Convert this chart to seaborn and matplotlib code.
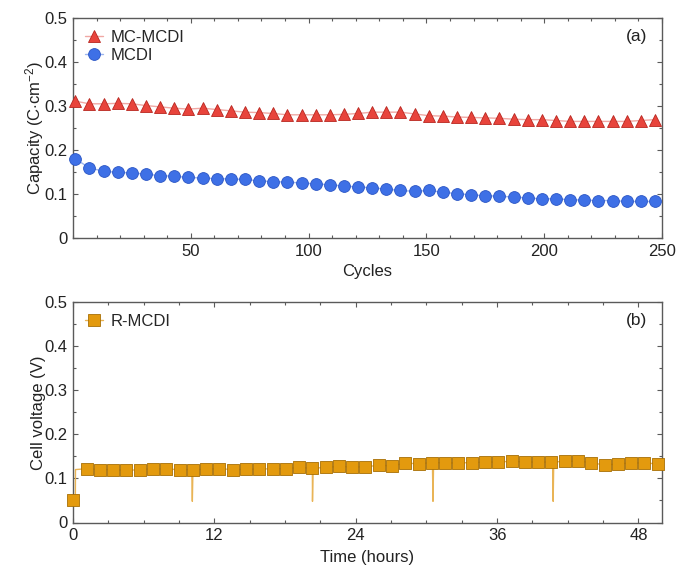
import numpy as np
import pandas as pd
import matplotlib
matplotlib.use("Agg")
import matplotlib.pyplot as plt
from matplotlib.ticker import MultipleLocator, FuncFormatter
from matplotlib.lines import Line2D
import seaborn as sns

# ---------------- data ----------------
cycles = list(range(1, 250, 6))  # 42 cycles
mc_mcdi = [0.311, 0.305, 0.305, 0.306, 0.305, 0.301, 0.298, 0.295, 0.293, 0.295,
           0.292, 0.289, 0.286, 0.285, 0.283, 0.280, 0.280, 0.280, 0.280, 0.281,
           0.283, 0.286, 0.286, 0.286, 0.282, 0.278, 0.277, 0.275, 0.274, 0.273,
           0.272, 0.270, 0.269, 0.269, 0.267, 0.265, 0.265, 0.265, 0.265, 0.265,
           0.267, 0.269]
mcdi = [0.180, 0.159, 0.152, 0.149, 0.148, 0.145, 0.142, 0.140, 0.138, 0.136,
        0.135, 0.134, 0.133, 0.130, 0.128, 0.127, 0.125, 0.123, 0.121, 0.118,
        0.116, 0.114, 0.111, 0.108, 0.106, 0.108, 0.104, 0.101, 0.098, 0.096,
        0.095, 0.093, 0.091, 0.089, 0.089, 0.087, 0.086, 0.085, 0.085, 0.083,
        0.083, 0.083]

hours = [0.00, 1.16, 2.29, 3.41, 4.54, 5.67, 6.80, 7.92, 9.05, 10.18, 11.30,
         12.43, 13.56, 14.69, 15.81, 16.94, 18.07, 19.19, 20.32, 21.45, 22.58,
         23.70, 24.83, 25.96, 27.08, 28.21, 29.34, 30.47, 31.59, 32.72, 33.85,
         34.97, 36.10, 37.23, 38.36, 39.48, 40.61, 41.74, 42.86, 43.99, 45.12,
         46.25, 47.37, 48.50, 49.63]
r_mcdi = [0.050, 0.122, 0.120, 0.120, 0.118, 0.120, 0.122, 0.121, 0.120, 0.120,
          0.121, 0.122, 0.120, 0.121, 0.121, 0.122, 0.122, 0.125, 0.123, 0.125,
          0.127, 0.126, 0.126, 0.130, 0.128, 0.135, 0.133, 0.136, 0.135, 0.135,
          0.136, 0.137, 0.137, 0.139, 0.137, 0.137, 0.137, 0.139, 0.139, 0.136,
          0.130, 0.133, 0.135, 0.135, 0.133]
# voltage trace details: start-up step and brief drops
step_time = [0.0, 0.2, 0.21]
step_volt = [0.050, 0.050, 0.120]
spike_times = [10.13, 20.33, 30.56, 40.76]
spike_min = 0.048

# ---------------- style ----------------
sns.set_theme(style="ticks")
plt.rcParams['font.family'] = ['Liberation Sans', 'DejaVu Sans']
plt.rcParams['mathtext.fontset'] = 'custom'
plt.rcParams['mathtext.rm'] = 'Liberation Sans'
plt.rcParams['mathtext.it'] = 'Liberation Sans'

FS = 12
spine_c = '#5a5a5a'
text_c = '#222222'

fig = plt.figure(figsize=(6.77, 5.67), dpi=100)
ax1 = fig.add_axes([73/677, 1-238/567, 589/677, 220/567])
ax2 = fig.add_axes([73/677, 1-522.5/567, 589/677, 220.5/567])

red_face, red_edge, red_line = '#e8443c', '#b8261f', '#f0a8a4'
blue_face, blue_edge, blue_line = '#3e70e6', '#2a55c4', '#9db5ee'
or_face, or_edge, or_line = '#e39a0e', '#a86f05', '#e9b456'

# ---- panel (a) ----
dfa = pd.DataFrame({'Cycles': cycles, 'MC-MCDI': mc_mcdi, 'MCDI': mcdi})
sns.lineplot(data=dfa, x='Cycles', y='MC-MCDI', ax=ax1, color=red_line,
             linewidth=1.0, marker='^', markersize=9, markerfacecolor=red_face,
             markeredgecolor=red_edge, markeredgewidth=0.6, clip_on=False,
             label='MC-MCDI', zorder=3)
sns.lineplot(data=dfa, x='Cycles', y='MCDI', ax=ax1, color=blue_line,
             linewidth=1.0, marker='o', markersize=8.5, markerfacecolor=blue_face,
             markeredgecolor=blue_edge, markeredgewidth=0.6, clip_on=False,
             label='MCDI', zorder=3)
ax1.set_xlim(0, 250)
ax1.set_ylim(0, 0.5)
ax1.set_xticks([50, 100, 150, 200, 250])
ax1.xaxis.set_minor_locator(MultipleLocator(10))
ax1.set_xlabel('Cycles', fontsize=FS, color=text_c, labelpad=4)
ax1.set_ylabel(r'Capacity (C$\cdot$cm$^{-2}$)', fontsize=FS, color=text_c, labelpad=-1)
ax1.text(0.975, 0.914, '(a)', transform=ax1.transAxes, ha='right', va='center',
         fontsize=12.5, color=text_c)
ax1.legend(loc='upper left', frameon=False, fontsize=FS, handlelength=1.1,
           handletextpad=0.45, borderaxespad=0.3, labelspacing=0.18,
           bbox_to_anchor=(0.0, 1.0))

# ---- panel (b) ----
trace_t = list(step_time)
trace_v = list(step_volt)
pts = list(zip(hours[1:], r_mcdi[1:]))
for s in spike_times:
    nb = min(pts, key=lambda p: abs(p[0] - s))[1]
    pts += [(s - 0.05, nb), (s, spike_min), (s + 0.05, nb)]
pts.sort()
trace_t += [p[0] for p in pts]
trace_v += [p[1] for p in pts]
dft = pd.DataFrame({'t': trace_t, 'v': trace_v})
sns.lineplot(data=dft, x='t', y='v', ax=ax2, color=or_line, linewidth=1.0,
             sort=False, estimator=None, zorder=2)
dfb = pd.DataFrame({'t': hours, 'v': r_mcdi})
sns.scatterplot(data=dfb, x='t', y='v', ax=ax2, marker='s', s=68,
                color=or_face, edgecolor=or_edge, linewidth=0.6, clip_on=False,
                zorder=3)
ax2.set_xlim(0, 50)
ax2.set_ylim(0, 0.5)
ax2.set_xticks([0, 12, 24, 36, 48])
ax2.xaxis.set_minor_locator(MultipleLocator(3))
ax2.set_xlabel('Time (hours)', fontsize=FS, color=text_c, labelpad=5)
ax2.set_ylabel('Cell voltage (V)', fontsize=FS, color=text_c, labelpad=-1)
ax2.text(0.975, 0.914, '(b)', transform=ax2.transAxes, ha='right', va='center',
         fontsize=12.5, color=text_c)
h = Line2D([], [], color=or_line, linewidth=1.0, marker='s', markersize=8.5,
           markerfacecolor=or_face, markeredgecolor=or_edge, markeredgewidth=0.6)
ax2.legend([h], ['R-MCDI'], loc='upper left', frameon=False, fontsize=FS,
           handlelength=1.1, handletextpad=0.45, borderaxespad=0.3,
           bbox_to_anchor=(0.0, 1.0))

yfmt = FuncFormatter(lambda v, p: '0' if abs(v) < 1e-9 else f'{v:.1f}')
for ax in (ax1, ax2):
    ax.yaxis.set_major_locator(MultipleLocator(0.1))
    ax.yaxis.set_minor_locator(MultipleLocator(0.05))
    ax.yaxis.set_major_formatter(yfmt)
    ax.tick_params(which='both', direction='in', top=True, right=True,
                   colors=spine_c, labelcolor=text_c, labelsize=FS, width=0.8)
    ax.tick_params(which='major', length=3.5, pad=4)
    ax.tick_params(which='minor', length=2)
    for sp in ax.spines.values():
        sp.set_color(spine_c)
        sp.set_linewidth(1.0)

fig.savefig('out.png', dpi=100)
